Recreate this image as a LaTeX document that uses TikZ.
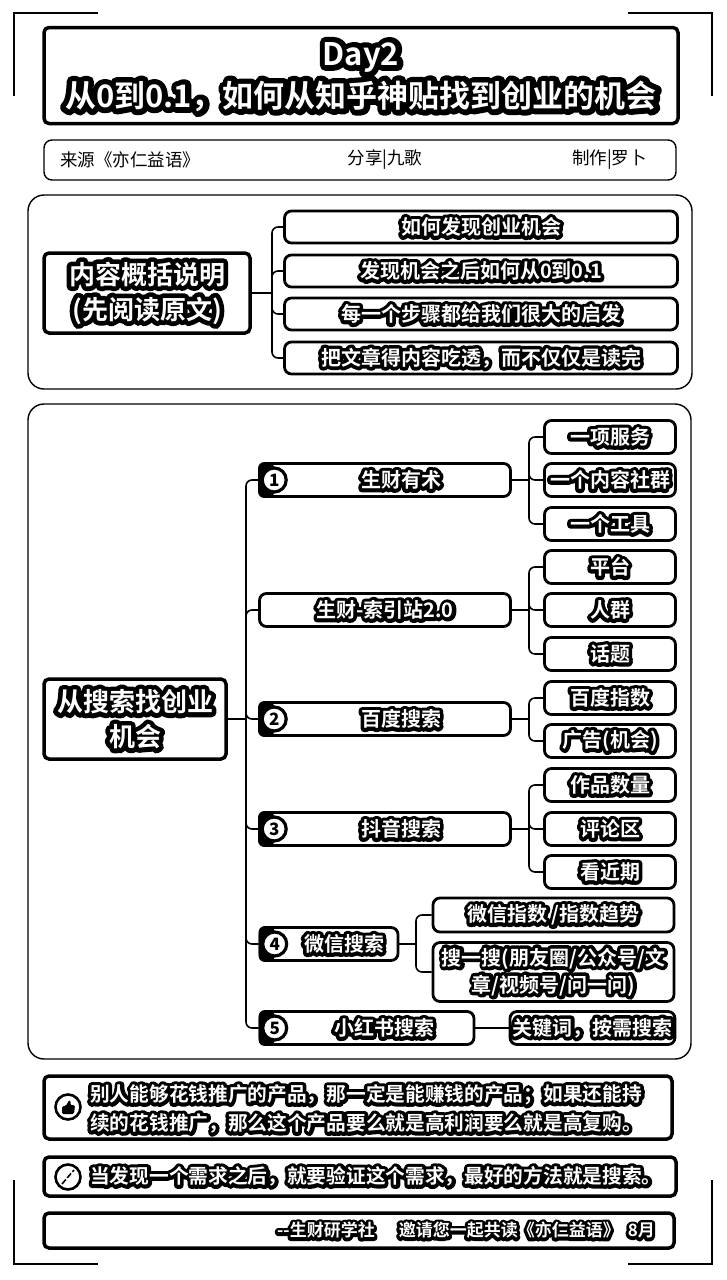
\documentclass[tikz,border=0pt]{standalone}
\usepackage{fontspec}
\setmainfont{Noto Sans CJK SC}
\newfontfamily\haloFace[FakeBold=36]{Noto Sans CJK SC Bold}
\newfontfamily\coreFace{Noto Sans CJK SC Bold}
\newcommand{\halo}[1]{\special{pdf:code 1 j 1 J}\rlap{\haloFace #1}{\coreFace\color{white}#1}}
\usetikzlibrary{calc, positioning}

\tikzset{
  baseBox/.style = {draw = black, fill = white, rounded corners = 5pt, inner sep = 0pt, align = center},
  titleBox/.style = {baseBox, line width = 3.5pt, minimum width = 634pt, minimum height = 96pt},
  titleText/.style = {inner sep = 0pt, align = center, font = \fontsize{31}{42}\selectfont},
  infoBox/.style = {baseBox, line width = 1.4pt, minimum width = 632pt, minimum height = 40pt, rounded corners = 8pt},
  panelBox/.style = {baseBox, line width = 1.4pt, rounded corners = 16pt},
  rootBox/.style = {baseBox, line width = 3.5pt, font = \fontsize{26}{35}\selectfont},
  leafBox/.style = {baseBox, line width = 2.8pt, minimum width = 131pt, minimum height = 33pt, rounded corners = 7pt, font = \fontsize{20}{27}\selectfont},
  noteBox/.style = {baseBox, line width = 3.5pt},
  noteText/.style = {inner sep = 0pt, align = left, font = \fontsize{19.7}{29}\selectfont},
  badgeDot/.style = {circle, draw = black, fill = white, line width = 3.2pt, minimum size = 24pt, inner sep = 0pt, font = \fontsize{17}{17}\bfseries\selectfont},
  iconDot/.style = {circle, draw = black, fill = white, line width = 2.6pt, minimum size = 25pt, inner sep = 0pt},
  linkLine/.style = {black, line width = 1.6pt, rounded corners = 6pt},
  cropLine/.style = {black, line width = 1.2pt},
  infoText/.style = {inner sep = 0pt, font = \fontsize{17.5}{20}\selectfont}
}

\begin{document}
\begin{tikzpicture}[x = 1pt, y = -1pt]
  \def\trunkX{246}
  \def\forkX{529}

  \useasboundingbox (0, 0) rectangle (726, 1280);
  \fill[white] (0, 0) rectangle (726, 1280);

  % ------------------------
  % crop marks
  % ------------------------

  \draw[cropLine] (14, 96) -- (14, 13) -- (98, 13);
  \draw[cropLine] (628, 13) -- (712, 13) -- (712, 96);
  \draw[cropLine] (14, 1180) -- (14, 1264) -- (98, 1264);
  \draw[cropLine] (628, 1264) -- (712, 1264) -- (712, 1180);

  % ------------------------
  % heading
  % ------------------------

  \node[titleBox] (title) at (361, 75.5) {};
  \node[titleText] (titleLabel) at (361, 77) {\halo{Day2}\\ \halo{从0到0.1，如何从知乎神贴找到创业的机会}};

  \node[infoBox] (info) at (360, 160) {};
  \node[infoText, anchor = west] (source) at (60, 160) {来源《亦仁益语》};
  \node[infoText] (share) at (385, 160) {分享|九歌};
  \node[infoText, anchor = east] (maker) at (647, 160) {制作|罗卜};

  % ------------------------
  % summary panel
  % ------------------------

  \node[panelBox, minimum width = 664pt, minimum height = 194pt] (panelA) at (360, 292) {};
  \node[rootBox, minimum width = 206pt, minimum height = 80pt] (rootA) at (147, 293) {\halo{内容概括说明}\\ \halo{(先阅读原文)}};

  \node[leafBox, minimum width = 393pt, minimum height = 32pt] (sumA) at (481, 227) {\halo{如何发现创业机会}};
  \node[leafBox, minimum width = 393pt, minimum height = 32pt] (sumB) at (481, 271) {\halo{发现机会之后如何从0到0.1}};
  \node[leafBox, minimum width = 393pt, minimum height = 32pt] (sumC) at (481, 314) {\halo{每一个步骤都给我们很大的启发}};
  \node[leafBox, minimum width = 393pt, minimum height = 32pt] (sumD) at (481, 358) {\halo{把文章得内容吃透，而不仅仅是读完}};

  \coordinate (forkA) at (272, 293);
  \draw[linkLine] (rootA.east) -- (forkA);
  \foreach \leaf in {sumA, sumB, sumC, sumD} {
    \draw[linkLine] (forkA) |- (\leaf.west);
  }

  % ------------------------
  % search panel
  % ------------------------

  \node[panelBox, minimum width = 663pt, minimum height = 655pt] (panelB) at (359.5, 731.5) {};
  \node[rootBox, minimum width = 182pt, minimum height = 80pt] (rootB) at (135, 719) {\halo{从搜索找创业}\\ \halo{机会}};

  \node[leafBox, minimum width = 251pt] (midA) at (385, 480) {\hspace*{32pt}\halo{生财有术}};
  \node[leafBox, minimum width = 251pt] (midB) at (385, 610) {\halo{生财-索引站2.0}};
  \node[leafBox, minimum width = 251pt] (midC) at (385, 719) {\hspace*{32pt}\halo{百度搜索}};
  \node[leafBox, minimum width = 251pt] (midD) at (385, 829) {\hspace*{32pt}\halo{抖音搜索}};
  \node[leafBox, minimum width = 138pt] (midE) at (329, 944) {\hspace*{30pt}\halo{微信搜索}};
  \node[leafBox, minimum width = 214pt] (midF) at (367, 1028) {\hspace*{34pt}\halo{小红书搜索}};

  % number badges sit on the left end of their boxes
  \foreach \mid/\num in {midA/1, midC/2, midD/3, midE/4, midF/5} {
    \fill[black, rounded corners = 6pt] (\mid.north west) rectangle ($(\mid.south west) + (16, 0)$);
    \node[badgeDot, right = 2.5pt of \mid.west] (badge\num) {\num};
  }

  \node[leafBox] (leafA) at (610, 437) {\halo{一项服务}};
  \node[leafBox] (leafB) at (610, 480) {\halo{一个内容社群}};
  \node[leafBox] (leafC) at (610, 524) {\halo{一个工具}};
  \node[leafBox] (leafD) at (610, 567) {\halo{平台}};
  \node[leafBox] (leafE) at (610, 610) {\halo{人群}};
  \node[leafBox] (leafF) at (610, 654) {\halo{话题}};
  \node[leafBox] (leafG) at (610, 698) {\halo{百度指数}};
  \node[leafBox] (leafH) at (610, 741) {\halo{广告(机会)}};
  \node[leafBox] (leafI) at (610, 785) {\halo{作品数量}};
  \node[leafBox] (leafJ) at (610, 829) {\halo{评论区}};
  \node[leafBox] (leafK) at (610, 872) {\halo{看近期}};
  \node[leafBox, minimum width = 241pt, minimum height = 34pt] (leafL) at (553.5, 915) {\halo{微信指数 /指数趋势}};
  \node[leafBox, minimum width = 241pt, minimum height = 59pt] (leafM) at (553.5, 972) {\halo{搜一搜(朋友圈/公众号/文}\\ \halo{章/视频号/问一问)}};
  \node[leafBox, minimum width = 165pt] (leafN) at (592.5, 1028) {\halo{关键词，按需搜索}};

  \coordinate (trunk) at (\trunkX, 719);
  \draw[linkLine] (rootB.east) -- (trunk);
  \foreach \mid in {midA, midB, midC, midD, midE, midF} {
    \draw[linkLine] (trunk) |- (\mid.west);
  }

  \foreach \mid/\leafs in {midA/{leafA, leafB, leafC}, midB/{leafD, leafE, leafF}, midC/{leafG, leafH}, midD/{leafI, leafJ, leafK}} {
    \coordinate (fork) at (\forkX, 0 |- \mid.east);
    \draw[linkLine] (\mid.east) -- (fork);
    \foreach \leaf in \leafs {
      \draw[linkLine] (fork) |- (\leaf.west);
    }
  }

  \coordinate (forkE) at (416, 944);
  \draw[linkLine] (midE.east) -- (forkE);
  \draw[linkLine] (forkE) |- (leafL.west);
  \draw[linkLine] (forkE) |- (leafM.west);
  \draw[linkLine] (midF.east) -- (leafN.west);

  % ------------------------
  % closing notes
  % ------------------------

  \node[noteBox, minimum width = 628pt, minimum height = 63pt] (noteA) at (358, 1107.5) {};
  \node[noteText, anchor = west] (noteAText) at (90, 1109) {\halo{别人能够花钱推广的产品，那一定是能赚钱的产品；如果还能持}\\ \halo{续的花钱推广，那么这个产品要么就是高利润要么就是高复购。}};
  \node[iconDot] (iconA) at (68, 1107) {};
  \fill[black, rounded corners = 1.5pt] (62, 1106) -- (66, 1106) -- (69, 1100) -- (71, 1101) -- (70, 1105) -- (75, 1105) -- (74, 1114) -- (62, 1114) -- cycle;

  \node[noteBox, minimum width = 632pt, minimum height = 39pt] (noteB) at (360, 1176.5) {};
  \node[noteText, anchor = west] (noteBText) at (90, 1176.5) {\halo{当发现一个需求之后，就要验证这个需求，最好的方法就是搜索。}};
  \node[iconDot] (iconB) at (68, 1177) {};
  \draw[black, line width = 1.6pt, dash pattern = on 6pt off 2pt] (62, 1184) -- (74, 1170);

  \node[noteBox, minimum width = 630pt, minimum height = 35pt] (noteC) at (359, 1230.5) {};
  \node[inner sep = 0pt, anchor = east, font = \fontsize{17}{24}\selectfont] (noteCText) at (655, 1230.5) {\halo{--生财研学社\hspace{24pt}邀请您一起共读《亦仁益语》\hspace{8pt}8月}};
\end{tikzpicture}
\end{document}
